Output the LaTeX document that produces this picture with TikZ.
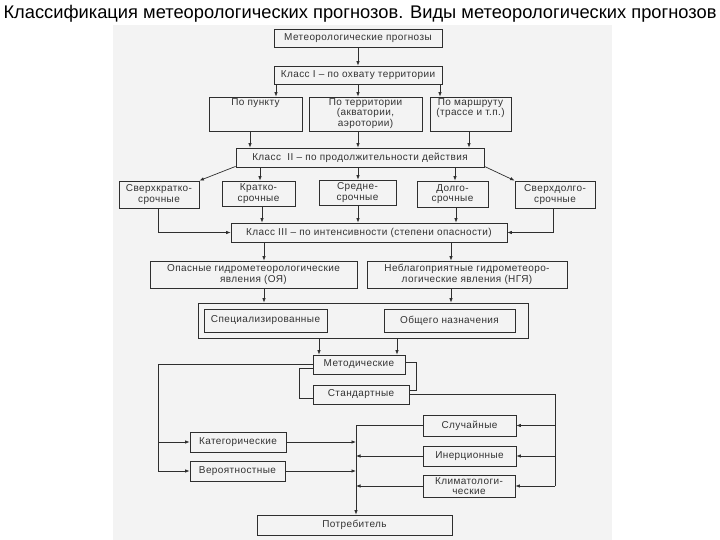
\documentclass[tikz,border=0pt]{standalone}
\usepackage{fontspec}
\setmainfont{Liberation Sans}
\newfontfamily\boxfont[LetterSpace=4]{Liberation Sans}
\usetikzlibrary{arrows.meta}
\definecolor{ink}{HTML}{2E2E2E}
\definecolor{txt}{HTML}{333333}
\definecolor{paper}{HTML}{F3F3F3}
\begin{document}
\begin{tikzpicture}[x=1pt,y=-1pt,
  box/.style={draw=ink, line width=0.8pt, inner sep=1pt, align=center, text=txt,
    font=\boxfont\fontsize{10}{10.5}\selectfont},
  arr/.style={draw=ink, line width=0.7pt, -{Latex[length=4.5pt,width=3.5pt]}},
  ln/.style={draw=ink, line width=0.7pt}]
\useasboundingbox (0,0) rectangle (720,540);
\fill[paper] (113,25) rectangle (612,540);
\node[anchor=base, font=\fontsize{18.3}{20}\selectfont] (title) at (360,19)
  {Классификация метеорологических прогнозов. Виды метеорологических прогнозов};
% boxes
\node[box, minimum width=168pt, minimum height=18pt] (meteo) at (358,38) {Метеорологические прогнозы};
\node[box, minimum width=168pt, minimum height=18pt] (k1) at (358,75) {Класс I – по охвату территории};
\node[box, minimum width=93pt, minimum height=34pt] (p1) at (255.5,114)
  {\parbox[c][31pt][t]{90pt}{\centering По пункту}};
\node[box, minimum width=113pt, minimum height=34pt] (p2) at (365.5,114)
  {\parbox[c][31pt][t]{110pt}{\centering По территории\\(акватории,\\аэротории)}};
\node[box, minimum width=81pt, minimum height=34pt] (p3) at (470.5,114)
  {\parbox[c][31pt][t]{79pt}{\centering По маршруту\\(трассе и т.п.)}};
\node[box, minimum width=248pt, minimum height=19pt] (k2) at (360,157.5) {Класс\ \ II – по продолжительности действия};
\node[box, minimum width=80pt, minimum height=27pt] (r1) at (159,194.5) {Сверхкратко-\\срочные};
\node[box, minimum width=73pt, minimum height=25pt] (r2) at (258.5,193.5) {Кратко-\\срочные};
\node[box, minimum width=77pt, minimum height=25pt] (r3) at (357.5,192.5) {Средне-\\срочные};
\node[box, minimum width=71pt, minimum height=26pt] (r4) at (452.5,194) {Долго-\\срочные};
\node[box, minimum width=80pt, minimum height=27pt] (r5) at (555,194.5) {Сверхдолго-\\срочные};
\node[box, minimum width=276pt, minimum height=19pt] (k3) at (369,232.5) {Класс III – по интенсивности (степени опасности)};
\node[box, minimum width=207pt, minimum height=27pt] (o1) at (253.5,274.5) {Опасные гидрометеорологические\\явления (ОЯ)};
\node[box, minimum width=200pt, minimum height=27pt] (o2) at (467,274.5) {Неблагоприятные гидрометеоро-\\логические явления (НГЯ)};
\node[box, minimum width=330pt, minimum height=35pt] (outer) at (363,320.5) {};
\node[box, minimum width=123pt, minimum height=23pt] (sp) at (265.5,320.5) {Специализированные};
\node[box, minimum width=131pt, minimum height=23pt] (og) at (449.5,320.5) {Общего назначения};
\node[box, minimum width=92pt, minimum height=19pt] (met) at (359,364.5) {Методические};
\node[box, minimum width=96pt, minimum height=19pt] (std) at (361,394.5) {Стандартные};
\node[box, minimum width=96pt, minimum height=20pt] (kat) at (238,442) {Категорические};
\node[box, minimum width=95pt, minimum height=20pt] (ver) at (237.5,471) {Вероятностные};
\node[box, minimum width=93pt, minimum height=21pt] (sl) at (469.5,425.5) {Случайные};
\node[box, minimum width=93pt, minimum height=20pt] (in) at (469.5,456) {Инерционные};
\node[box, minimum width=92pt, minimum height=22pt] (kl) at (469,486) {Климатологи-\\ческие};
\node[box, minimum width=195pt, minimum height=20pt] (pot) at (354.5,525) {Потребитель};
% helper coordinates
\coordinate (busL) at (158,471);
\coordinate (busR) at (555,486);
\coordinate (busM) at (356,0);
\coordinate (brR) at (416,0);
% connectors
\draw[arr] (meteo) -- (k1);
\draw[arr] (k1.south -| 276,0) -- (p1.north -| 276,0);
\draw[arr] (k1.south -| 358,0) -- (p2.north -| 358,0);
\draw[arr] (k1.south -| 440,0) -- (p3.north -| 440,0);
\draw[arr] (p1.south -| 250,0) -- (k2.north -| 250,0);
\draw[arr] (p2.south -| 358,0) -- (k2.north -| 358,0);
\draw[arr] (p3.south -| 469,0) -- (k2.north -| 469,0);
\draw[arr] ([yshift=1pt]k2.south west) -- (r1.north east);
\draw[arr] ([yshift=1pt]k2.south east) -- (r5.north west);
\draw[arr] (k2.south -| 260,0) -- (r2.north -| 260,0);
\draw[arr] (k2.south -| 358,0) -- (r3.north -| 358,0);
\draw[arr] (k2.south -| 455,0) -- (r4.north -| 455,0);
\draw[arr] (r1.south -| 158,0) |- (k3.west);
\draw[arr] (r2.south -| 262,0) -- (k3.north -| 262,0);
\draw[arr] (r3.south -| 358,0) -- (k3.north -| 358,0);
\draw[arr] (r4.south -| 456,0) -- (k3.north -| 456,0);
\draw[arr] (r5.south -| 553,0) |- (k3.east);
\draw[arr] (k3.south -| 264,0) -- (o1.north -| 264,0);
\draw[arr] (k3.south -| 451,0) -- (o2.north -| 451,0);
\draw[arr] (o1.south -| 264,0) -- (outer.north -| 264,0);
\draw[arr] (o2.south -| 451,0) -- (outer.north -| 451,0);
\draw[arr] (outer.south -| 319,0) -- (met.north -| 319,0);
\draw[arr] (outer.south -| 397,0) -- (met.north -| 397,0);
\draw[ln] ([yshift=-4pt]met.west) -- ++(-13,0) |- ([yshift=-4pt]std.west);
\draw[ln] ([yshift=2pt]met.east) -- ([yshift=2pt]met.east -| brR) |- ([yshift=4pt]std.east);
\draw[ln] (met.west) -| (busL);
\draw[arr] (busL |- kat) -- (kat.west);
\draw[arr] (busL) -- (ver.west);
\draw[ln] (std.east) -| (busR);
\draw[arr] (busR |- sl) -- (sl.east);
\draw[arr] (busR |- in) -- (in.east);
\draw[arr] (busR) -- (kl.east);
\draw[arr] (sl.west) -| (pot.north -| busM);
\draw[arr] (in.west) -- (in.west -| busM);
\draw[arr] (kl.west) -- (kl.west -| busM);
\draw[arr] (kat.east) -- (kat.east -| busM);
\draw[arr] (ver.east) -- (ver.east -| busM);
\end{tikzpicture}
\end{document}
